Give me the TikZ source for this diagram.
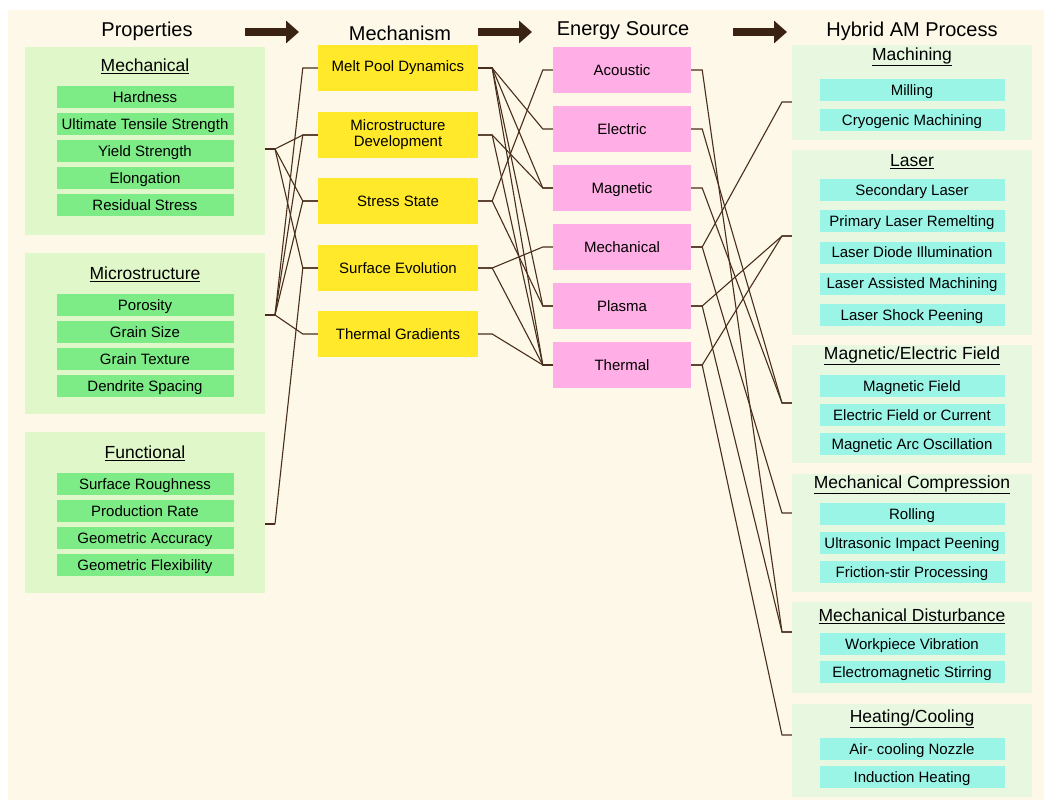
\documentclass[tikz,border=0pt]{standalone}
\usepackage{fontspec}
\setmainfont{Liberation Sans}
\usetikzlibrary{arrows.meta}
\definecolor{cream}{HTML}{FDF8E7}
\definecolor{propbg}{HTML}{E0F8C9}
\definecolor{propfill}{HTML}{7EEC86}
\definecolor{mechfill}{HTML}{FFE92A}
\definecolor{srcfill}{HTML}{FFAEE6}
\definecolor{hybbg}{HTML}{E7F7E0}
\definecolor{hybfill}{HTML}{9AF5E6}
\definecolor{linkbrown}{HTML}{4A2E1C}
\definecolor{arrowbrown}{HTML}{3B2314}
\tikzset{
  head/.style={font=\fontsize{20}{24}\selectfont},
  grptitle/.style={font=\fontsize{17.5}{21}\selectfont},
  propgrp/.style={fill=propbg, minimum width=240pt, inner sep=0pt},
  propitem/.style={fill=propfill, minimum width=177pt, minimum height=22pt, inner sep=0pt, text height=11.5pt, text depth=1.5pt, font=\fontsize{15}{17}\selectfont},
  mechbox/.style={fill=mechfill, minimum width=160pt, minimum height=46pt, inner sep=0pt, align=center, font=\fontsize{15}{16}\selectfont},
  srcbox/.style={fill=srcfill, minimum width=138pt, minimum height=46pt, inner sep=0pt, text height=11.5pt, text depth=1.5pt, font=\fontsize{15}{17}\selectfont},
  hybgrp/.style={fill=hybbg, minimum width=240pt, inner sep=0pt},
  hybitem/.style={fill=hybfill, minimum width=185pt, minimum height=22pt, inner sep=0pt, text height=11.5pt, text depth=1.5pt, font=\fontsize{15}{17}\selectfont},
  link/.style={draw=linkbrown, line width=1.1pt},
  bigarrow/.style={arrowbrown, line width=8pt, -{Triangle[length=13pt,width=22pt]}}
}
\begin{document}
\begin{tikzpicture}[x=1pt,y=-1pt]
  \fill[white] (0,0) rectangle (1051,800);
  \fill[cream] (8,10) rectangle (1044,800);

  % column heads
  \node[head] (hprop) at (147,31) {Properties};
  \node[head] (hmech) at (400,33) {Mechanism};
  \node[head] (hsrc) at (623,31) {Energy Source};
  \node[head] (hhyb) at (912,31) {Hybrid AM Process};
  \coordinate (a1s) at (245,32); \coordinate (a1e) at (299,32);
  \coordinate (a2s) at (478,32); \coordinate (a2e) at (532,32);
  \coordinate (a3s) at (733,32); \coordinate (a3e) at (787,32);
  \draw[bigarrow] (a1s) -- (a1e);
  \draw[bigarrow] (a2s) -- (a2e);
  \draw[bigarrow] (a3s) -- (a3e);

  % properties
  \node[propgrp, minimum height=188pt] (gmech) at (145,141) {};
  \node[grptitle] (tmech) at (145,66) {\underline{Mechanical}};
  \foreach \t [count=\i] in {Hardness,Ultimate Tensile Strength,Yield Strength,Elongation,Residual Stress}
    \node[propitem] (pmech\i) at (145,{97+27*(\i-1)}) {\t};
  \node[propgrp, minimum height=161pt] (gmicro) at (145,333.5) {};
  \node[grptitle] (tmicro) at (145,274) {\underline{Microstructure}};
  \foreach \t [count=\i] in {Porosity,Grain Size,Grain Texture,Dendrite Spacing}
    \node[propitem] (pmicro\i) at (145,{305+27*(\i-1)}) {\t};
  \node[propgrp, minimum height=161pt] (gfunc) at (145,512.5) {};
  \node[grptitle] (tfunc) at (145,453) {\underline{Functional}};
  \foreach \t [count=\i] in {Surface Roughness,Production Rate,Geometric Accuracy,Geometric Flexibility}
    \node[propitem] (pfunc\i) at (145,{484+27*(\i-1)}) {\t};

  % mechanisms
  \foreach \t/\y [count=\i] in {Melt Pool Dynamics/68,{Microstructure\\Development}/135,Stress State/201,Surface Evolution/268,Thermal Gradients/334}
    \node[mechbox] (m\i) at (398,\y) {\t};

  % energy sources
  \foreach \t/\y [count=\i] in {Acoustic/70,Electric/129,Magnetic/188,Mechanical/247,Plasma/306,Thermal/365}
    \node[srcbox] (e\i) at (622,\y) {\t};

  % hybrid AM processes
  \node[hybgrp, minimum height=95pt] (h1) at (912,92.5) {};
  \node[grptitle] (th1) at (912,57) {\underline{Machining}};
  \foreach \t [count=\i] in {Milling,Cryogenic Machining}
    \node[hybitem] (ha\i) at (912,{90+30*(\i-1)}) {\t};
  \node[hybgrp, minimum height=185pt] (h2) at (912,242.5) {};
  \node[grptitle] (th2) at (912,162) {\underline{Laser}};
  \foreach \t [count=\i] in {Secondary Laser,Primary Laser Remelting,Laser Diode Illumination,Laser Assisted Machining,Laser Shock Peening}
    \node[hybitem] (hb\i) at (912,{190+31.25*(\i-1)}) {\t};
  \node[hybgrp, minimum height=118pt] (h3) at (912,404) {};
  \node[grptitle] (th3) at (912,356) {\underline{Magnetic/Electric Field}};
  \foreach \t [count=\i] in {Magnetic Field,Electric Field or Current,Magnetic Arc Oscillation}
    \node[hybitem] (hc\i) at (912,{386+29*(\i-1)}) {\t};
  \node[hybgrp, minimum height=118pt] (h4) at (912,533) {};
  \node[grptitle] (th4) at (912,485) {\underline{Mechanical Compression}};
  \foreach \t [count=\i] in {Rolling,Ultrasonic Impact Peening,Friction-stir Processing}
    \node[hybitem] (hd\i) at (912,{514+29*(\i-1)}) {\t};
  \node[hybgrp, minimum height=91pt] (h5) at (912,647.5) {};
  \node[grptitle] (th5) at (912,616) {\underline{Mechanical Disturbance}};
  \foreach \t [count=\i] in {Workpiece Vibration,Electromagnetic Stirring}
    \node[hybitem] (he\i) at (912,{644+28*(\i-1)}) {\t};
  \node[hybgrp, minimum height=93pt] (h6) at (912,750.5) {};
  \node[grptitle] (th6) at (912,719) {\underline{Heating/Cooling}};
  \foreach \t [count=\i] in {Air- cooling Nozzle,Induction Heating}
    \node[hybitem] (hf\i) at (912,{749+28*(\i-1)}) {\t};

  % junction points
  \coordinate (pj1) at (275,149);
  \coordinate (pj2) at (275,315);
  \coordinate (pj3) at (275,524);
  \foreach \i in {1,...,5} {
    \coordinate (mi\i) at ([xshift=-15pt]m\i.west);
    \coordinate (mo\i) at ([xshift=14pt]m\i.east);
  }
  \foreach \i in {1,...,6} {
    \coordinate (ei\i) at ([xshift=-10pt]e\i.west);
    \coordinate (eo\i) at ([xshift=11pt]e\i.east);
  }
  \foreach \i/\y in {1/102,2/236,3/403,4/513,5/632,6/735}
    \coordinate (hj\i) at (782,\y);

  % links
  \draw[link] (gmech.east |- pj1) -- (pj1);
  \draw[link] (gmicro.east |- pj2) -- (pj2);
  \draw[link] (gfunc.east |- pj3) -- (pj3);
  \foreach \a/\b in {1/2,1/3,1/4,2/1,2/2,2/3,2/5,3/4}
    \draw[link] (pj\a) -- (mi\b) -- (m\b.west);
  \foreach \a/\b in {1/2,1/3,1/5,1/6,2/3,2/6,3/1,3/5,4/4,4/6,5/6}
    \draw[link] (m\a.east) -- (mo\a) -- (ei\b) -- (e\b.west);
  \foreach \a/\b in {1/5,2/3,3/3,4/1,4/4,5/2,5/5,6/2,6/6}
    \draw[link] (e\a.east) -- (eo\a) -- (hj\b) -- (h\b.west |- hj\b);
\end{tikzpicture}
\end{document}
